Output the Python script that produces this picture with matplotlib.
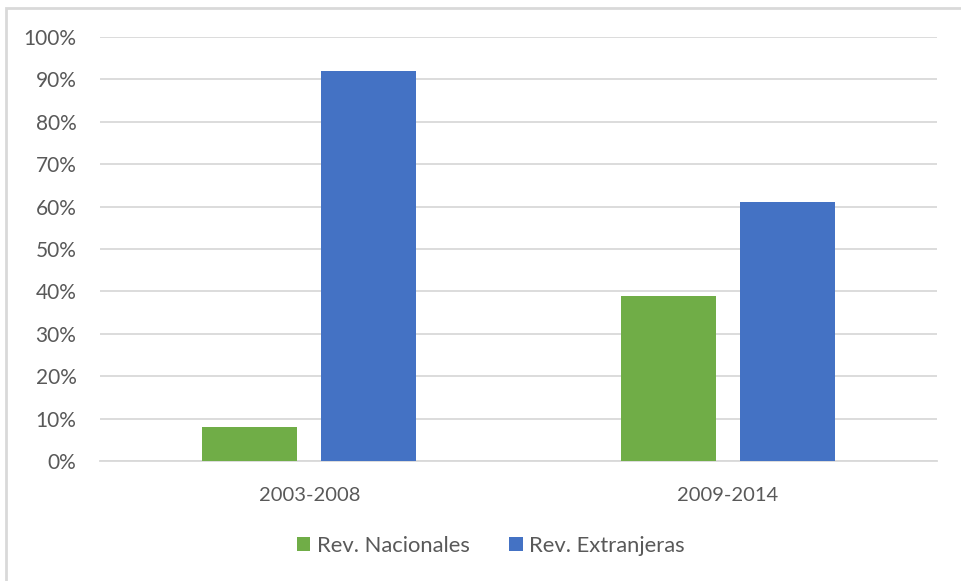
import numpy as np
import matplotlib.pyplot as plt
from matplotlib.patches import Rectangle
from matplotlib.ticker import PercentFormatter

periods = ['2003-2008', '2009-2014']
nacionales = [0.08, 0.39]
extranjeras = [0.92, 0.61]
series_names = ['Rev. Nacionales', 'Rev. Extranjeras']

plt.rcParams['font.family'] = ['Lato', 'DejaVu Sans']
txt = '#595959'
grid = '#d9d9d9'

fig = plt.figure(figsize=(9.62, 5.81), dpi=100)
ax = fig.add_axes([100/962, 1 - 461/581, 837/962, 424/581])

x = np.arange(len(periods))
w = 0.227
off = 0.142
ax.bar(x - off, nacionales, w, color='#70ad47', label=series_names[0], zorder=3)
ax.bar(x + off, extranjeras, w, color='#4472c4', label=series_names[1], zorder=3)

ax.set_xlim(-0.5, 1.5)
ax.set_ylim(0, 1)
ax.set_yticks(np.arange(0, 1.01, 0.1))
ax.yaxis.set_major_formatter(PercentFormatter(1.0, decimals=0))
ax.set_xticks(x)
ax.set_xticklabels(periods)
ax.grid(axis='y', color=grid, lw=1.3, zorder=0)
for s in ['top', 'right', 'left']:
    ax.spines[s].set_visible(False)
ax.spines['bottom'].set_color(grid)
ax.spines['bottom'].set_linewidth(1.3)
ax.tick_params(axis='both', length=0, colors=txt, labelsize=14.5)
ax.tick_params(axis='y', labelsize=15, pad=17)
ax.tick_params(axis='x', pad=19)

fig.legend(loc='center', bbox_to_anchor=(491/962, 1 - 546/581), ncol=2,
           frameon=False, fontsize=15.8, labelcolor=txt, handlelength=0.6,
           handleheight=0.6, handletextpad=0.3, columnspacing=1.8)

fig.patches.append(Rectangle((6/962, -0.1), 1.1, 1 - 8/581 + 0.1,
                             transform=fig.transFigure, fill=False,
                             edgecolor=grid, lw=2))

fig.savefig('out.png', dpi=100)
